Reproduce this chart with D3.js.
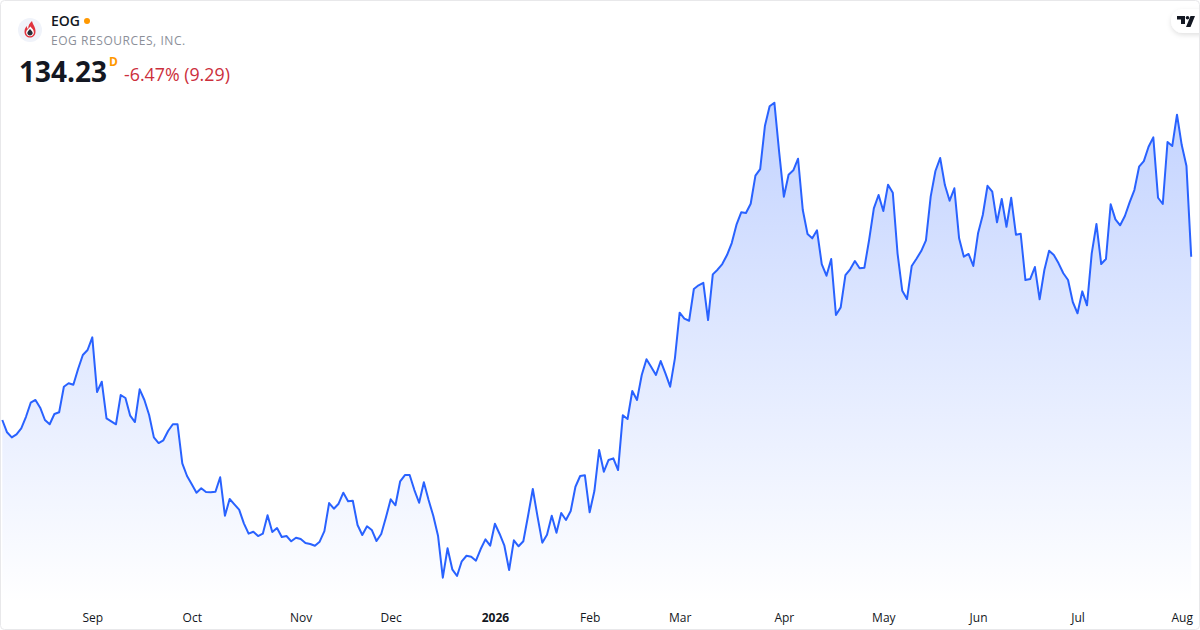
<!DOCTYPE html>
<html>
<head>
<meta charset="utf-8">
<script src="https://cdn.jsdelivr.net/npm/d3@7"></script>
<style>
  html, body { margin: 0; padding: 0; background: #fff; }
  svg { display: block; font-family: "Open Sans", sans-serif; }
</style>
</head>
<body>
<svg id="chart" width="1200" height="630"></svg>
<script>
// daily closes
const closes = [
  117.50, 116.24, 115.72, 116.03, 116.65, 117.83, 119.27, 119.55, 118.76, 117.50,
  117.06, 118.11, 118.29, 120.91, 121.26, 121.11, 122.72, 124.16, 124.67, 125.97,
  120.37, 121.42, 117.67, 117.36, 117.06, 120.06, 119.75, 117.94, 117.29, 120.64,
  119.55, 118.01, 115.72, 115.14, 115.42, 116.37, 117.06, 117.06, 113.06, 111.76,
  110.91, 110.05, 110.50, 110.12, 110.09, 110.15, 111.63, 107.69, 109.40, 108.86,
  108.31, 106.91, 105.85, 106.05, 105.61, 105.85, 107.73, 106.02, 106.43, 105.51,
  105.61, 105.07, 105.44, 105.30, 104.89, 104.79, 104.62, 105.03, 106.12, 108.99,
  108.41, 108.92, 110.05, 109.17, 109.23, 106.74, 105.71, 106.61, 106.23, 105.10,
  105.82, 107.53, 109.37, 108.76, 111.22, 111.86, 111.86, 110.32, 109.02, 111.11,
  109.30, 107.66, 105.61, 101.34, 104.35, 102.20, 101.51, 103.02, 103.59, 103.49,
  103.08, 104.28, 105.27, 104.62, 106.87, 105.82, 104.62, 102.13, 105.17, 104.56,
  105.07, 107.69, 110.43, 107.59, 104.93, 105.74, 107.69, 105.95, 107.97, 107.25,
  108.17, 110.66, 111.76, 111.83, 108.04, 110.22, 114.42, 112.20, 113.40, 113.57,
  112.37, 117.98, 117.60, 120.47, 119.55, 122.11, 123.72, 122.93, 122.11, 123.54,
  122.28, 120.91, 123.82, 128.49, 127.88, 127.67, 130.92, 131.30, 131.56, 127.74,
  132.42, 132.90, 133.48, 134.40, 135.63, 137.51, 138.78, 138.71, 139.66, 142.53,
  143.21, 147.62, 149.64, 150.01, 144.99, 140.38, 142.63, 143.08, 144.27, 139.01,
  136.55, 136.11, 136.93, 133.48, 132.28, 133.99, 128.26, 129.04, 132.35, 132.94,
  133.79, 133.04, 133.10, 135.94, 139.19, 140.55, 138.91, 141.61, 140.79, 134.58,
  130.74, 129.89, 133.28, 134.02, 134.81, 135.91, 140.38, 143.01, 144.34, 141.57,
  139.97, 141.24, 136.11, 134.23, 134.51, 133.28, 136.63, 138.50, 141.50, 140.89,
  137.75, 140.14, 137.30, 140.27, 136.48, 136.58, 131.84, 131.94, 133.17, 129.86,
  132.87, 134.84, 134.40, 133.55, 132.53, 131.84, 129.59, 128.43, 130.68, 129.25,
  134.58, 137.58, 133.48, 133.99, 139.60, 138.06, 137.45, 138.40, 139.80, 141.06,
  143.45, 144.03, 145.50, 146.46, 140.27, 139.63, 145.98, 145.57, 148.78, 145.67,
  143.52, 134.23
]
const tickLabels = ['Sep', 'Oct', 'Nov', 'Dec', '2026', 'Feb', 'Mar', 'Apr', 'May', 'Jun', 'Jul', 'Aug']
const tickBars = [19, 40, 63, 82, 104, 124, 143, 165, 186, 206, 227, 249]

const svg = d3.select('#chart')
const x = d3.scaleLinear().domain([0, closes.length - 1]).range([2.3, 1191.2])
const y = d3.scaleLinear().domain([101.34, 150.01]).range([577.7, 102.7])
const baseY = 604

const defs = svg.append('defs')
const grad = defs.append('linearGradient')
  .attr('id', 'areaFill')
  .attr('gradientUnits', 'userSpaceOnUse')
  .attr('x1', 0).attr('x2', 0)
  .attr('y1', y(d3.max(closes))).attr('y2', baseY)
grad.append('stop').attr('offset', 0).attr('stop-color', '#2962ff').attr('stop-opacity', 0.28)
grad.append('stop').attr('offset', 1).attr('stop-color', '#2962ff').attr('stop-opacity', 0)

const shadow = defs.append('filter').attr('id', 'pillShadow')
  .attr('x', '-30%').attr('y', '-30%').attr('width', '160%').attr('height', '170%')
shadow.append('feDropShadow')
  .attr('dx', 0).attr('dy', 2).attr('stdDeviation', 2.5)
  .attr('flood-color', '#000').attr('flood-opacity', 0.12)

// area and line
svg.append('path')
  .datum(closes)
  .attr('fill', 'url(#areaFill)')
  .attr('d', d3.area().x((d, i) => x(i)).y0(baseY).y1(d => y(d)))

svg.append('path')
  .datum(closes)
  .attr('fill', 'none')
  .attr('stroke', '#2962ff')
  .attr('stroke-width', 2)
  .attr('stroke-linejoin', 'round')
  .attr('d', d3.line().x((d, i) => x(i)).y(d => y(d)))

// time axis
const axis = d3.axisBottom(x)
  .tickValues(tickBars)
  .tickFormat((d, i) => tickLabels[i])
  .tickSize(0)
const axisG = svg.append('g').attr('transform', 'translate(0,604)').call(axis)
axisG.select('.domain').remove()
axisG.selectAll('text')
  .attr('y', 9)
  .attr('dy', '0.71em')
  .attr('fill', '#131722')
  .style('font-family', '"Open Sans", sans-serif')
  .style('font-size', '12px')
  .style('font-weight', (d, i) => tickLabels[i] === '2026' ? 700 : 400)

// header
const logo = svg.append('g').attr('transform', 'translate(30,30)')
logo.append('circle').attr('r', 12).attr('fill', '#f0f3fa')
logo.append('path')
  .attr('fill', '#e0333f')
  .attr('d', 'M2,-9 C3,-5 5.5,-3 5.5,1.5 C5.5,5.5 2.8,7.5 0,7.5 C-2.8,7.5 -5.5,5.5 -5.5,1.7 C-5.5,-1 -4.2,-2.8 -3.2,-4 C-3.2,-2.4 -2.6,-1.4 -1.8,-1 C-2,-4.2 -0.4,-7 2,-9 Z')
logo.append('path')
  .attr('fill', '#fff')
  .attr('d', 'M0.4,-3.5 C2,-1.5 3.9,0 3.9,2.4 C3.9,4.6 2,6.2 0,6.2 C-2,6.2 -3.9,4.6 -3.9,2.4 C-3.9,0 -1.2,-1.2 0.4,-3.5 Z')
logo.append('path')
  .attr('fill', '#2a2e39')
  .attr('d', 'M0,-1 C1.1,0.6 2.7,1.6 2.7,3.1 C2.7,4.5 1.4,5.4 0,5.4 C-1.4,5.4 -2.7,4.5 -2.7,3.1 C-2.7,1.6 -1.1,0.6 0,-1 Z')

svg.append('text').attr('x', 51).attr('y', 26)
  .attr('fill', '#131722').style('font-size', '14px').style('font-weight', 600).text('EOG')
svg.append('circle').attr('cx', 87).attr('cy', 21).attr('r', 3).attr('fill', '#ff9800')
svg.append('text').attr('x', 51).attr('y', 45)
  .attr('fill', '#8c8f99').style('font-size', '12px').style('letter-spacing', '0.56px').text('EOG RESOURCES, INC.')
svg.append('text').attr('x', 19).attr('y', 82)
  .attr('fill', '#131722').style('font-size', '28px').style('font-weight', 700).text('134.23')
svg.append('text').attr('x', 109).attr('y', 66)
  .attr('fill', '#ff9800').style('font-size', '12px').style('font-weight', 700).text('D')
svg.append('text').attr('x', 124).attr('y', 81)
  .attr('fill', '#cc2f3c').style('font-size', '17.8px').text('-6.47% (9.29)')

// logo pill
svg.append('rect')
  .attr('x', 1171).attr('y', 9).attr('width', 50).attr('height', 24).attr('rx', 12)
  .attr('fill', '#fff').attr('filter', 'url(#pillShadow)')
svg.append('path')
  .attr('fill', '#131722')
  .attr('d', 'M1177,16 H1185 V24 H1181 V19.5 H1177 Z M1190.5,16 H1195 L1190.5,27 H1186 Z')
svg.append('circle').attr('cx', 1187.5).attr('cy', 17.8).attr('r', 1.8).attr('fill', '#131722')

// card border
svg.append('rect')
  .attr('x', 0.5).attr('y', 0.5).attr('width', 1199).attr('height', 629).attr('rx', 4)
  .attr('fill', 'none').attr('stroke', '#e8e8ea')
</script>
</body>
</html>
